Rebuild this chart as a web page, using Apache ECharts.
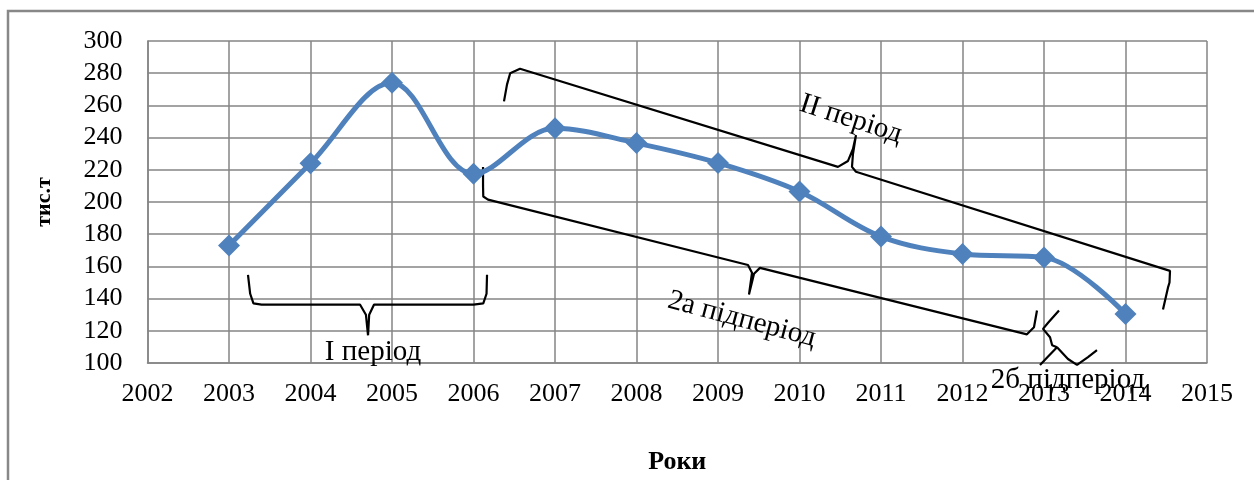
<!DOCTYPE html>
<html>
<head>
<meta charset="utf-8">
<script src="https://cdn.jsdelivr.net/npm/echarts@6/dist/echarts.min.js"></script>
<style>
html,body{margin:0;padding:0;background:#fff;}
#c{width:1254px;height:480px;}
</style>
</head>
<body>
<div id="c"></div>
<script>
// ---- data ----
const years = [2003, 2004, 2005, 2006, 2007, 2008, 2009, 2010, 2011, 2012, 2013, 2014];
const values = [173, 224, 274, 217.5, 245.8, 236.6, 224.3, 206.5, 178.5, 167.7, 165.6, 130.4];
const yTicks = [100, 120, 140, 160, 180, 200, 220, 240, 260, 280, 300];
const xTicks = [2002, 2003, 2004, 2005, 2006, 2007, 2008, 2009, 2010, 2011, 2012, 2013, 2014, 2015];
const yName = 'тис.т';
const xName = 'Роки';

// ---- hand-drawn annotation shapes, in data units (year, value) ----
const bracketI = [[2003.233,154.8],[2003.26,143],[2003.30,137],[2003.40,136.3],[2004.607,136.3],[2004.68,130],[2004.706,117.2],[2004.72,130],[2004.78,136.3],[2006.0,136.3],[2006.12,137],[2006.16,143],[2006.166,154.8]];
const bracketII = [[2006.374,262.5],[2006.411,272.9],[2006.45,280],[2006.571,282.8],[2010.472,221.8],[2010.595,225.5],[2010.656,232.9],[2010.693,241.5],[2010.656,229.8],[2010.644,221.8],[2010.693,218.8],[2014.546,157.2],[2014.54,150],[2014.521,146.8],[2014.460,133.2]];
const bracket2a = [[2006.117,221.8],[2006.117,210],[2006.12,203.4],[2006.178,201.5],[2009.368,160.9],[2009.417,156.0],[2009.380,142.5],[2009.442,155.4],[2009.515,159.1],[2012.791,117.8],[2012.877,122.2],[2012.914,132.6]];
const bracket2b = [[2013.184,132.6],[2013.05,125],[2012.988,121.2],[2013.074,116.0],[2013.10,111],[2013.160,109.8],[2013.05,104],[2012.951,98.8]];
const bracket2bArm = [[2013.160,109.8],[2013.294,102.5],[2013.405,98.8],[2013.540,103.7],[2013.650,108.0]];
const labelTexts = ['I період', 'II період', '2а підперіод', '2б підперіод'];
const labelAnchors = [[2004.767,106.8],[2010.632,251.4],[2009.294,127.1],[2013.294,88.9]];
const labelRot = [0, -0.31, -0.26, 0];

const FONT = "'Liberation Serif', 'Times New Roman', serif";
const chart = echarts.init(document.getElementById('c'));

function bracketSeries(pts) {
  return {
    type: 'line', data: pts, symbol: 'none', smooth: false, clip: false, silent: true,
    lineStyle: { color: '#000', width: 2.2 }, z: 1, animation: false
  };
}

chart.setOption({
  animation: false,
  grid: { left: 147.5, right: 47, top: 41, bottom: 114, containLabel: false },
  xAxis: {
    type: 'value', min: xTicks[0], max: xTicks[xTicks.length - 1], interval: 1,
    name: xName, nameLocation: 'middle', nameGap: 86,
    nameTextStyle: { fontFamily: FONT, fontSize: 26, fontWeight: 'bold', color: '#000' },
    axisLine: { show: true, lineStyle: { color: '#858585', width: 1.5 } },
    axisTick: { show: false },
    axisLabel: { fontFamily: FONT, fontSize: 26, color: '#000', margin: 18, formatter: v => String(v) },
    splitLine: { show: true, lineStyle: { color: '#858585', width: 1.5 } }
  },
  yAxis: {
    type: 'value', min: yTicks[0], max: yTicks[yTicks.length - 1], interval: 20,
    name: yName, nameLocation: 'middle', nameGap: 92, nameRotate: 90,
    nameTextStyle: { fontFamily: FONT, fontSize: 22, fontWeight: 'bold', color: '#000' },
    axisLine: { show: true, lineStyle: { color: '#858585', width: 1.5 } },
    axisTick: { show: false },
    axisLabel: { fontFamily: FONT, fontSize: 26, color: '#000', margin: 25 },
    splitLine: { show: true, lineStyle: { color: '#858585', width: 1.5 } }
  },
  series: [
    {
      type: 'line', data: years.map((y, i) => [y, values[i]]),
      smooth: 0.35, symbol: 'diamond', symbolSize: 22,
      lineStyle: { color: '#4F81BD', width: 5 },
      itemStyle: { color: '#4F81BD' }, z: 3
    },
    bracketSeries(bracketI),
    bracketSeries(bracketII),
    bracketSeries(bracket2a),
    bracketSeries(bracket2b),
    bracketSeries(bracket2bArm)
  ]
});

const graphics = [{
  type: 'rect', shape: { x: 8, y: 11, width: 1400, height: 600 },
  style: { fill: 'none', stroke: '#888', lineWidth: 2.5 }, silent: true, z: 0
}];
labelTexts.forEach((t, i) => {
  const p = chart.convertToPixel({ gridIndex: 0 }, labelAnchors[i]);
  graphics.push({
    type: 'text', x: p[0], y: p[1], rotation: labelRot[i], z: 10,
    style: { text: t, fontFamily: FONT, fontSize: 29, fill: '#000', align: 'center', verticalAlign: 'middle' }
  });
});
chart.setOption({ graphic: graphics });
</script>
</body>
</html>
